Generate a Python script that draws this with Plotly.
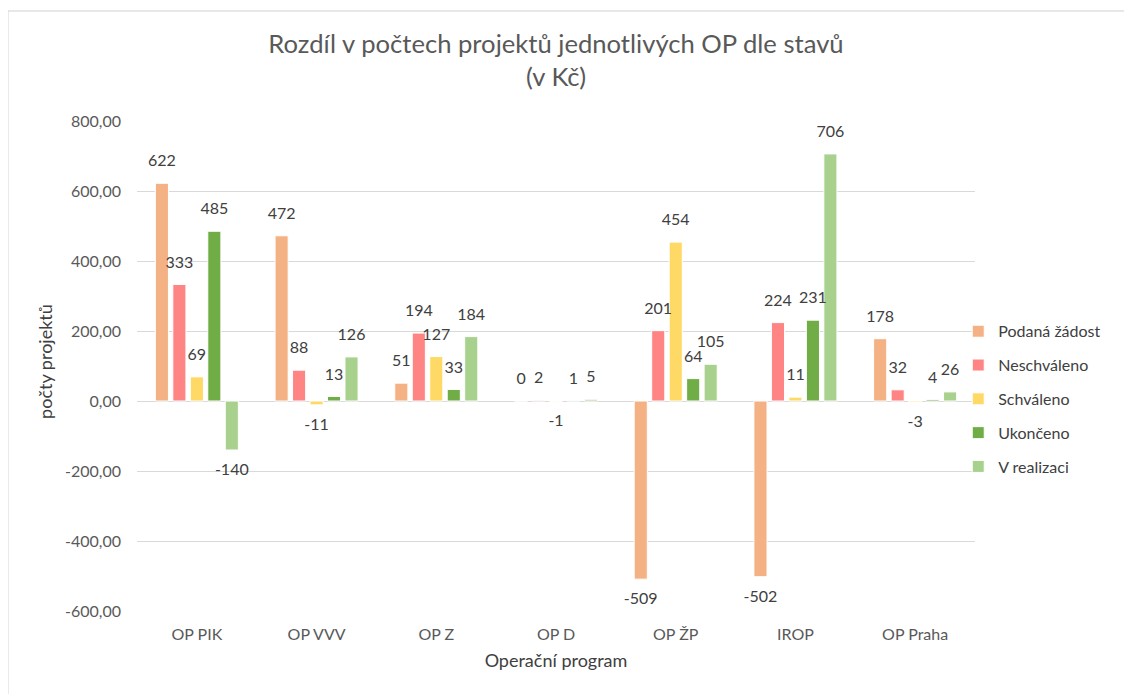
import plotly.graph_objects as go

# ── Data ──────────────────────────────────────────────────────────────────────
PROGRAMS = ["OP PIK", "OP VVV", "OP Z", "OP D", "OP ŽP", "IROP", "OP Praha"]

PODANA      = [622, 472, 51, 0, -509, -502, 178]
NESCHVALENO = [333, 88, 194, 2, 201, 224, 32]
SCHVALENO   = [69, -11, 127, -1, 454, 11, -3]
UKONCENO    = [485, 13, 33, 1, 64, 231, 4]
V_REALIZACI = [-140, 126, 184, 5, 105, 706, 26]

Y_TICKS  = [-600, -400, -200, 0, 200, 400, 600, 800]
Y_LABELS = ["-600,00", "-400,00", "-200,00", "0,00",
            "200,00", "400,00", "600,00", "800,00"]

SERIES = [
    ("Podaná žádost", PODANA,      "#F4B183"),
    ("Neschváleno",   NESCHVALENO, "#FF8585"),
    ("Schváleno",     SCHVALENO,   "#FFD966"),
    ("Ukončeno",      UKONCENO,    "#70AD47"),
    ("V realizaci",   V_REALIZACI, "#A9D18E"),
]

FONT = "Lato, 'Open Sans', sans-serif"
TEXT_COL = "#404040"
BARGAP = 0.27

fig = go.Figure()
for i, (name, vals, colour) in enumerate(SERIES):
    fig.add_trace(go.Bar(
        x=PROGRAMS, y=vals,
        name=name,
        marker=dict(color=colour, line=dict(color="white", width=1)),
        offsetgroup=f"g{i}",
        legendgroup=f"g{i}",
        hovertemplate=f"<b>{name}</b> %{{x}}: %{{y}}<extra></extra>",
    ))

# data labels, placed like Excel "outside end" (a bit away from the bar end)
for i, (name, vals, colour) in enumerate(SERIES):
    fig.add_trace(go.Scatter(
        x=PROGRAMS, y=vals,
        mode="markers+text",
        text=[str(v) for v in vals],
        textposition=["top center" if v >= 0 else "bottom center" for v in vals],
        textfont=dict(size=16, color=TEXT_COL, family=FONT),
        marker=dict(size=19, color="rgba(0,0,0,0)"),
        offsetgroup=f"g{i}",
        legendgroup=f"g{i}",
        showlegend=False,
        hoverinfo="skip",
        cliponaxis=False,
    ))

fig.update_layout(
    width=1124, height=686,
    barmode="group",
    bargap=BARGAP,
    bargroupgap=0.25,
    scattermode="group",
    scattergap=BARGAP,
    paper_bgcolor="white",
    plot_bgcolor="white",
    font=dict(family=FONT, size=16, color="#595959"),
    title=dict(
        text="Rozdíl v počtech projektů jednotlivých OP dle stavů<br>(v Kč)",
        x=0.5, xref="paper", y=0.935, yref="container",
        xanchor="center", yanchor="top",
        font=dict(size=25.6, color="#595959", family=FONT),
    ),
    margin=dict(l=129, r=157, t=113, b=83),
    legend=dict(
        x=0.98, xanchor="left", y=0.433, yanchor="middle",
        font=dict(size=16, color=TEXT_COL, family=FONT),
        tracegroupgap=10,
        itemwidth=30,
        bgcolor="rgba(0,0,0,0)",
    ),
    showlegend=True,
)

fig.update_xaxes(
    title=dict(text="Operační program", font=dict(size=18, color=TEXT_COL), standoff=12),
    tickfont=dict(size=16, color="#595959"),
    ticklabelstandoff=12,
    showline=False, ticks="", showgrid=False,
)
fig.update_yaxes(
    range=[-600, 800], tickvals=Y_TICKS, ticktext=Y_LABELS,
    tickfont=dict(size=16, color="#595959"),
    ticklabelstandoff=15,
    gridcolor="#D9D9D9", gridwidth=1,
    zeroline=True, zerolinecolor="#D9D9D9", zerolinewidth=1,
    showline=False, ticks="",
)

# y-axis title sits closer to the tick labels than plotly's standoff allows
fig.add_annotation(
    text="počty projektů", textangle=-90,
    xref="paper", yref="paper", x=-0.11, y=0.51,
    xanchor="center", yanchor="middle", showarrow=False,
    font=dict(size=18, color=TEXT_COL, family=FONT),
)

# chart frame (spreadsheet chart border)
fig.add_shape(type="rect", xref="paper", yref="paper",
              x0=-0.154, x1=1.2, y0=-0.2, y1=1.2245,
              line=dict(color="#D0D0D0", width=1), layer="below")

fig.write_html("out.html")
